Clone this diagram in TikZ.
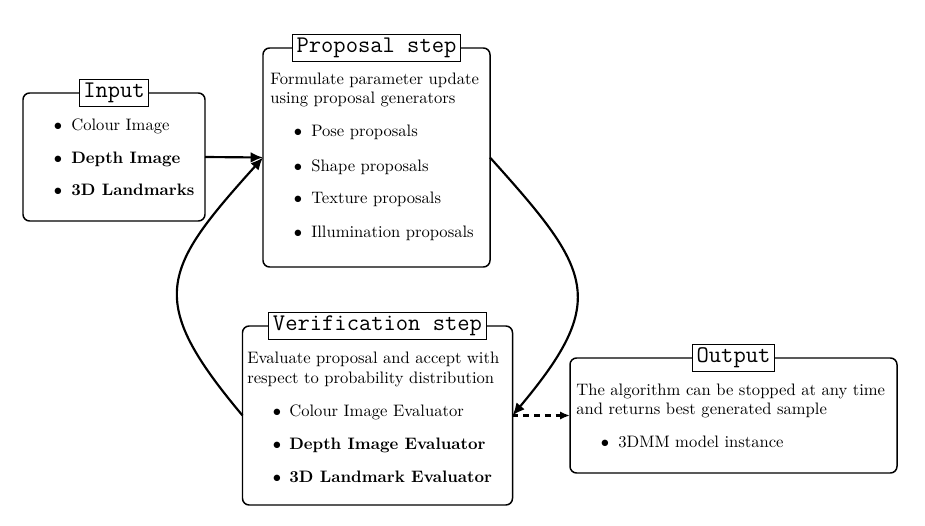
\documentclass[tikz,border=0pt]{standalone}
\usetikzlibrary{arrows.meta}
\begin{document}
\begin{tikzpicture}[x=0.603pt,y=-0.603pt,
  mainbox/.style={draw,line width=0.9pt,rounded corners=4pt,inner sep=0pt,outer sep=0pt},
  titlebox/.style={draw,semithick,fill=white,font=\Large\ttfamily,inner xsep=2.5pt,inner ysep=2pt},
  txt/.style={anchor=base west,inner sep=0pt},
  bul/.style={anchor=base,inner sep=0pt},
  conn/.style={line width=1.3pt,-{Latex[length=7.5pt,width=6.5pt]}},
  dconn/.style={line width=1.3pt,dash pattern=on 3.5pt off 3pt,-{Latex[length=6pt,width=5pt]}}]
\useasboundingbox (0,0) rectangle (925,526);

% boxes
\node[mainbox,minimum width={182*0.603pt},minimum height={128*0.603pt}] (input) at (114,157) {};
\node[mainbox,minimum width={227*0.603pt},minimum height={219*0.603pt}] (prop) at (376.5,157.5) {};
\node[mainbox,minimum width={270*0.603pt},minimum height={179*0.603pt}] (verif) at (377.5,415.5) {};
\node[mainbox,minimum width={327*0.603pt},minimum height={115*0.603pt}] (output) at (733.5,415.5) {};

% titles
\node[titlebox] (tin) at (input.north) {Input};
\node[titlebox] (tprop) at (prop.north) {Proposal step};
\node[titlebox] (tver) at (verif.north) {Verification step};
\node[titlebox] (tout) at (output.north) {Output};

% input content
\node[bul] (ib1) at (58,130) {$\bullet$};
\node[txt] (it1) at (71,130) {Colour Image};
\node[bul] (ib2) at (58,163) {$\bullet$};
\node[txt] (it2) at (71,163) {\bfseries Depth Image};
\node[bul] (ib3) at (58,196) {$\bullet$};
\node[txt] (it3) at (71,196) {\bfseries 3D Landmarks};

% proposal content
\node[txt] (ph1) at (270,85) {Formulate parameter update};
\node[txt] (ph2) at (270,104) {using proposal generators};
\node[bul] (pb1) at (298,137) {$\bullet$};
\node[txt] (pt1) at (311,137) {Pose proposals};
\node[bul] (pb2) at (298,171) {$\bullet$};
\node[txt] (pt2) at (311,171) {Shape proposals};
\node[bul] (pb3) at (298,204) {$\bullet$};
\node[txt] (pt3) at (311,204) {Texture proposals};
\node[bul] (pb4) at (298,237) {$\bullet$};
\node[txt] (pt4) at (311,237) {Illumination proposals};

% verification content
\node[txt] (vh1) at (247,363) {Evaluate proposal and accept with};
\node[txt] (vh2) at (247,383) {respect to probability distribution};
\node[bul] (vb1) at (277,416) {$\bullet$};
\node[txt] (vt1) at (289,416) {Colour Image Evaluator};
\node[bul] (vb2) at (277,449) {$\bullet$};
\node[txt] (vt2) at (289,449) {\bfseries Depth Image Evaluator};
\node[bul] (vb3) at (277,482) {$\bullet$};
\node[txt] (vt3) at (289,482) {\bfseries 3D Landmark Evaluator};

% output content
\node[txt] (oh1) at (576,395) {The algorithm can be stopped at any time};
\node[txt] (oh2) at (576,414) {and returns best generated sample};
\node[bul] (ob1) at (605,447) {$\bullet$};
\node[txt] (ot1) at (618,447) {3DMM model instance};

% connectors
\draw[conn] (input.east) -- (prop.west);
\draw[conn] (verif.west) to[out=130,in=228,looseness=1.5] (prop.west);
\draw[conn] (prop.east) to[out=-48,in=50,looseness=1.5] (verif.east);
\draw[dconn] (verif.east) -- (output.west);
\end{tikzpicture}
\end{document}
